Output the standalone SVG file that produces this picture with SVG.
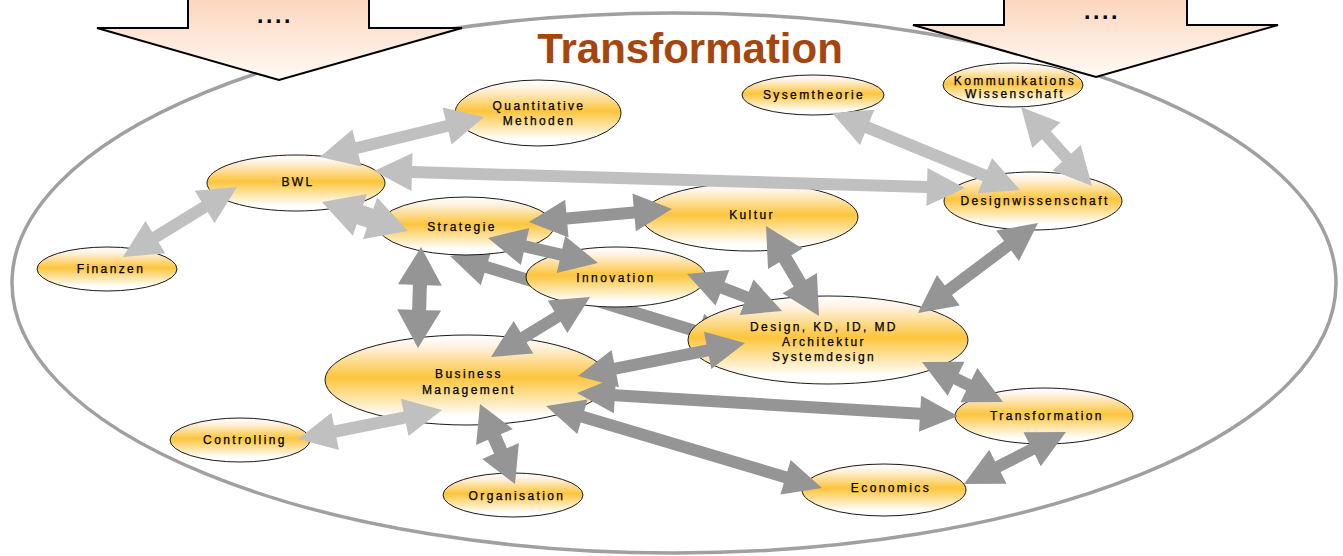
<svg xmlns="http://www.w3.org/2000/svg" width="1343" height="556" viewBox="0 0 1343 556">
<defs>
<linearGradient id="nodeGrad" x1="0" y1="0" x2="0" y2="1">
<stop offset="0" stop-color="#ffffff"/>
<stop offset="0.12" stop-color="#fff3e4"/>
<stop offset="0.47" stop-color="#fcc53d"/>
<stop offset="0.9" stop-color="#ffffff"/>
</linearGradient>
<linearGradient id="blockGrad" x1="0" y1="0" x2="0" y2="1">
<stop offset="0" stop-color="#fcd4ba"/>
<stop offset="1" stop-color="#fffaf6"/>
</linearGradient>
</defs>
<style>
.node ellipse{fill:url(#nodeGrad);stroke:#1a1a1a;stroke-width:1}
.node text{font-family:"Liberation Sans",Arial,sans-serif;font-size:12px;letter-spacing:2.4px;fill:#000;stroke:#000;stroke-width:0.25;text-anchor:middle}
.lt{fill:#c0c0c0}
.dk{fill:#959595}
.block{fill:url(#blockGrad);stroke:#000;stroke-width:2;stroke-linejoin:miter}
.dots{font-family:"Liberation Sans",Arial,sans-serif;font-size:23px;font-weight:bold;letter-spacing:2.6px;fill:#000;text-anchor:middle}
</style>
<rect width="1343" height="556" fill="#ffffff"/>
<g id="frame">
<ellipse cx="674" cy="283" rx="662" ry="270" fill="none" stroke="#a0a0a0" stroke-width="3.5"/>
</g>
<g id="input-left">
<polygon class="block" points="188,-5 369,-5 369,28 462,28 279,80 97,28 188,28"/>
<text class="dots" x="275" y="23">....</text>
</g>
<g id="input-right">
<polygon class="block" points="1004,-5 1187,-5 1187,25 1278,25 1096,77 913,25 1004,25"/>
<text class="dots" x="1102" y="19">....</text>
</g>
<g id="title">
<text x="690" y="63" font-family="'Liberation Sans',Arial,sans-serif" font-size="42" font-weight="bold" fill="#a6460f" text-anchor="middle">Transformation</text>
</g>
<g id="connectors-back">
<path class="dk" transform="translate(450 256) rotate(16.98)" d="M0,0 L38,-19 L38,-6 L260,-6 L260,-19 L298,0 L260,19 L260,6 L38,6 L38,19 Z"/>
</g>
<g id="nodes">
<g id="n-quant" class="node"><ellipse cx="538" cy="113" rx="83" ry="33"/><text x="539" y="110">Quantitative</text><text x="539" y="125">Methoden</text></g>
<g id="n-sysem" class="node"><ellipse cx="813" cy="95" rx="71" ry="20"/><text x="814" y="99">Sysemtheorie</text></g>
<g id="n-komm" class="node"><ellipse cx="1013" cy="85" rx="70" ry="22"/><text x="1015" y="85">Kommunikations</text><text x="1015" y="98">Wissenschaft</text></g>
<g id="n-bwl" class="node"><ellipse cx="296" cy="183" rx="89" ry="28"/><text x="298" y="186">BWL</text></g>
<g id="n-fin" class="node"><ellipse cx="107" cy="269" rx="70" ry="22"/><text x="111" y="273">Finanzen</text></g>
<g id="n-strat" class="node"><ellipse cx="466" cy="226" rx="88" ry="29"/><text x="462" y="231">Strategie</text></g>
<g id="n-kultur" class="node"><ellipse cx="750" cy="217" rx="108" ry="34"/><text x="752" y="219">Kultur</text></g>
<g id="n-dwiss" class="node"><ellipse cx="1033" cy="201" rx="89" ry="29"/><text x="1035" y="205">Designwissenschaft</text></g>
<g id="n-innov" class="node"><ellipse cx="616" cy="277" rx="90" ry="30"/><text x="616" y="282">Innovation</text></g>
<g id="n-design" class="node"><ellipse cx="828" cy="340" rx="140" ry="44"/><text x="824" y="331">Design, KD, ID, MD</text><text x="824" y="346">Architektur</text><text x="824" y="361">Systemdesign</text></g>
<g id="n-bm" class="node"><ellipse cx="467" cy="380" rx="142" ry="45"/><text x="469" y="378">Business</text><text x="469" y="394">Management</text></g>
<g id="n-contr" class="node"><ellipse cx="240" cy="440" rx="70" ry="22"/><text x="245" y="444">Controlling</text></g>
<g id="n-org" class="node"><ellipse cx="513" cy="495" rx="70" ry="22"/><text x="517" y="500">Organisation</text></g>
<g id="n-trans" class="node"><ellipse cx="1044" cy="416" rx="89" ry="28"/><text x="1047" y="420">Transformation</text></g>
<g id="n-econ" class="node"><ellipse cx="884" cy="490" rx="82" ry="26"/><text x="891" y="492">Economics</text></g>
</g>
<g id="connectors">
<path class="lt" transform="translate(320 157) rotate(-13.7)" d="M0,0 L38,-19 L38,-6 L130.8,-6 L130.8,-19 L168.8,0 L130.8,19 L130.8,6 L38,6 L38,19 Z"/>
<path class="lt" transform="translate(374 171) rotate(1.65)" d="M0,0 L38,-19 L38,-6 L553.2,-6 L553.2,-19 L591.2,0 L553.2,19 L553.2,6 L38,6 L38,19 Z"/>
<path class="lt" transform="translate(832 113) rotate(22.27)" d="M0,0 L38,-19 L38,-6 L165.2,-6 L165.2,-19 L203.2,0 L165.2,19 L165.2,6 L38,6 L38,19 Z"/>
<path class="lt" transform="translate(1021 107) rotate(48.05)" d="M0,0 L38,-19 L38,-6 L68.2,-6 L68.2,-19 L106.2,0 L68.2,19 L68.2,6 L38,6 L38,19 Z"/>
<path class="lt" transform="translate(123 257) rotate(-31.55)" d="M0,0 L38,-19 L38,-6 L95.8,-6 L95.8,-19 L133.8,0 L95.8,19 L95.8,6 L38,6 L38,19 Z"/>
<path class="lt" transform="translate(322 202) rotate(18.64)" d="M0,0 L40,-22 L40,-10 L50.8,-10 L50.8,-22 L90.8,0 L50.8,22 L50.8,10 L40,10 L40,22 Z"/>
<path class="lt" transform="translate(298 439) rotate(-11.39)" d="M0,0 L38,-19 L38,-6 L108.9,-6 L108.9,-19 L146.9,0 L108.9,19 L108.9,6 L38,6 L38,19 Z"/>
<path class="dk" transform="translate(529 222) rotate(-5.19)" d="M0,0 L38,-19 L38,-6 L105.6,-6 L105.6,-19 L143.6,0 L105.6,19 L105.6,6 L38,6 L38,19 Z"/>
<path class="dk" transform="translate(488 238) rotate(12.8)" d="M0,0 L38,-19 L38,-6 L74.8,-6 L74.8,-19 L112.8,0 L74.8,19 L74.8,6 L38,6 L38,19 Z"/>
<path class="dk" transform="translate(421 247) rotate(91.7)" d="M0,0 L38,-22 L38,-7 L63,-7 L63,-22 L101,0 L63,22 L63,7 L38,7 L38,22 Z"/>
<path class="dk" transform="translate(687 274) rotate(21.28)" d="M0,0 L38,-19 L38,-6 L64,-6 L64,-19 L102,0 L64,19 L64,6 L38,6 L38,19 Z"/>
<path class="dk" transform="translate(766 226) rotate(59.5)" d="M0,0 L38,-20 L38,-7 L66.4,-7 L66.4,-20 L104.4,0 L66.4,20 L66.4,7 L38,7 L38,20 Z"/>
<path class="dk" transform="translate(491 357) rotate(-31.2)" d="M0,0 L38,-19 L38,-6 L77.8,-6 L77.8,-19 L115.8,0 L77.8,19 L77.8,6 L38,6 L38,19 Z"/>
<path class="dk" transform="translate(578 376) rotate(-11.18)" d="M0,0 L38,-19 L38,-6 L132.2,-6 L132.2,-19 L170.2,0 L132.2,19 L132.2,6 L38,6 L38,19 Z"/>
<path class="dk" transform="translate(577 393) rotate(3.45)" d="M0,0 L38,-18 L38,-6 L343.7,-6 L343.7,-18 L381.7,0 L343.7,18 L343.7,6 L38,6 L38,18 Z"/>
<path class="dk" transform="translate(546 406) rotate(16.55)" d="M0,0 L38,-18 L38,-6 L249.9,-6 L249.9,-18 L287.9,0 L249.9,18 L249.9,6 L38,6 L38,18 Z"/>
<path class="dk" transform="translate(480 404) rotate(66.37)" d="M0,0 L36,-20 L36,-7 L51.3,-7 L51.3,-20 L87.3,0 L51.3,20 L51.3,7 L36,7 L36,20 Z"/>
<path class="dk" transform="translate(922 362) rotate(26.28)" d="M0,0 L38,-19 L38,-6 L52.3,-6 L52.3,-19 L90.3,0 L52.3,19 L52.3,6 L38,6 L38,19 Z"/>
<path class="dk" transform="translate(964 484) rotate(-27)" d="M0,0 L38,-19 L38,-6 L76.5,-6 L76.5,-19 L114.5,0 L76.5,19 L76.5,6 L38,6 L38,19 Z"/>
<path class="dk" transform="translate(918 313) rotate(-36.87)" d="M0,0 L38,-19 L38,-6 L112,-6 L112,-19 L150,0 L112,19 L112,6 L38,6 L38,19 Z"/>
</g>
</svg>
